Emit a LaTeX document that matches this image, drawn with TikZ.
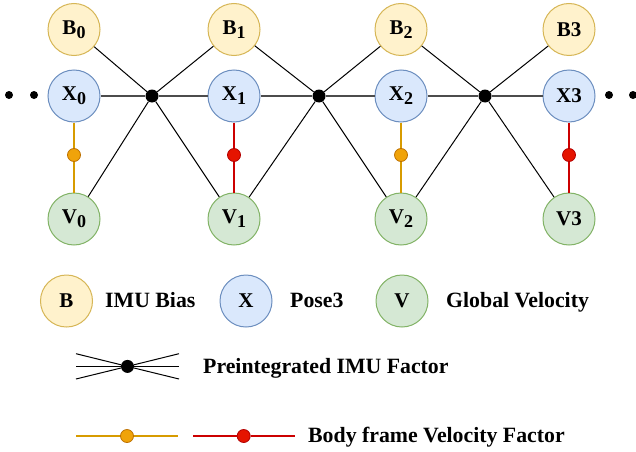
\documentclass[tikz,border=0pt]{standalone}
\usepackage{fontspec}
\setmainfont{Liberation Serif}
\usepackage{tikz}
\usetikzlibrary{positioning}
\definecolor{biasfill}{HTML}{FFF2CC}
\definecolor{biasdraw}{HTML}{D6B656}
\definecolor{posefill}{HTML}{DAE8FC}
\definecolor{posedraw}{HTML}{6C8EBF}
\definecolor{velfill}{HTML}{D5E8D4}
\definecolor{veldraw}{HTML}{82B366}
\definecolor{ofill}{HTML}{F0A30A}
\definecolor{odraw}{HTML}{BD7000}
\definecolor{oline}{HTML}{D79B00}
\definecolor{rfill}{HTML}{E51400}
\definecolor{rdraw}{HTML}{B20000}
\definecolor{rline}{HTML}{CC0000}
\newcommand{\nidx}[1]{\raisebox{-4pt}{\fontsize{18}{18}\selectfont #1}}
\tikzset{basic/.style={draw,circle,line width=1pt,minimum size=52pt,inner sep=0pt,font=\fontsize{21}{23}\selectfont\bfseries}}
\tikzset{bias/.style={basic,fill=biasfill,draw=biasdraw}}
\tikzset{pose/.style={basic,fill=posefill,draw=posedraw}}
\tikzset{vel/.style={basic,fill=velfill,draw=veldraw}}
\tikzset{factor/.style={circle,fill=black,minimum size=13pt,inner sep=0pt}}
\tikzset{ofactor/.style={circle,fill=ofill,draw=odraw,line width=0.8pt,minimum size=13pt,inner sep=0pt}}
\tikzset{rfactor/.style={circle,fill=rfill,draw=rdraw,line width=0.8pt,minimum size=13pt,inner sep=0pt}}
\tikzset{ddot/.style={circle,fill=black,minimum size=8pt,inner sep=0pt}}
\tikzset{edge/.style={draw,black,line width=1pt}}
\tikzset{xedge/.style={draw,black!70,line width=1.6pt}}
\tikzset{legtext/.style={anchor=base west,inner sep=0pt,font=\fontsize{21.8}{24}\selectfont\bfseries}}

\begin{document}
\begin{tikzpicture}[x=1pt,y=1pt]
        \useasboundingbox (0,0) rectangle (636,451);

        \node[pose] (x0) at (74,355) {X\nidx{0}};
        \node[pose] (x1) at (234,355) {X\nidx{1}};
        \node[pose] (x2) at (401,355) {X\nidx{2}};
        \node[pose] (x3) at (569,355) {X3};
        \foreach \i/\t in {0/B\nidx{0},1/B\nidx{1},2/B\nidx{2},3/B3}
            \node[bias,above=13.5pt of x\i] (b\i) {\t};
        \foreach \i/\t in {0/V\nidx{0},1/V\nidx{1},2/V\nidx{2},3/V3}
            \node[vel,below=70pt of x\i] (v\i) {\t};

        % preintegrated factors
        \node[factor] (f0) at (152,355) {};
        \node[factor] (f1) at (319,355) {};
        \node[factor] (f2) at (485,355) {};
        \foreach \f/\a/\b in {f0/0/1,f1/1/2,f2/2/3} {
            \path[xedge] (x\a) -- (\f) -- (x\b);
            \path[edge] (b\a) -- (\f) -- (b\b);
            \path[edge] (v\a) -- (\f) -- (v\b);
        }

        % body frame velocity factors
        \node[ofactor] (s0) at (74,296) {};
        \node[rfactor] (s1) at (234,296) {};
        \node[ofactor] (s2) at (401,296) {};
        \node[rfactor] (s3) at (569,296) {};
            \path[draw,oline,line width=1.2pt] (x0) -- (s0) -- (v0);
            \path[draw,rline,line width=1.2pt] (x1) -- (s1) -- (v1);
            \path[draw,oline,line width=1.2pt] (x2) -- (s2) -- (v2);
            \path[draw,rline,line width=1.2pt] (x3) -- (s3) -- (v3);

        \node[ddot] (dl1) at (9,356) {};
        \node[ddot] (dl2) at (34,356) {};
        \node[ddot] (dr1) at (609,356) {};
        \node[ddot] (dr2) at (633,356) {};

        % legend
        \node[bias] (lb) at (66.5,150) {B};
        \node[legtext] (lbt) at (105,143.3) {IMU Bias};
        \node[pose] (lx) at (246,150) {X};
        \node[legtext] (lxt) at (290,143.3) {Pose3};
        \node[vel] (lv) at (402,150) {V};
        \node[legtext] (lvt) at (446,143.3) {Global Velocity};

        \node[factor] (lf) at (127.5,84.6) {};
        \coordinate (lfa) at (76,97.3);
        \coordinate (lfb) at (179,72);
        \coordinate (lfc) at (76,72);
        \coordinate (lfd) at (179,97.3);
        \coordinate (lfe) at (76,84.6);
        \coordinate (lff) at (179,84.6);
            \path[edge] (lfa) -- (lf) -- (lfb);
            \path[edge] (lfc) -- (lf) -- (lfd);
            \path[edge] (lfe) -- (lf) -- (lff);
        \node[legtext] (lft) at (203,77.7) {Preintegrated IMU Factor};

        \node[ofactor] (lo) at (127,15) {};
        \coordinate (loa) at (76,15);
        \coordinate (lob) at (178,15);
            \path[draw,oline,line width=1.2pt] (loa) -- (lo) -- (lob);
        \node[rfactor] (lr) at (243.7,15) {};
        \coordinate (lra) at (193,15);
        \coordinate (lrb) at (295,15);
            \path[draw,rline,line width=1.2pt] (lra) -- (lr) -- (lrb);
        \node[legtext] (lrt) at (308,9) {Body frame Velocity Factor};

    \end{tikzpicture}
\end{document}
